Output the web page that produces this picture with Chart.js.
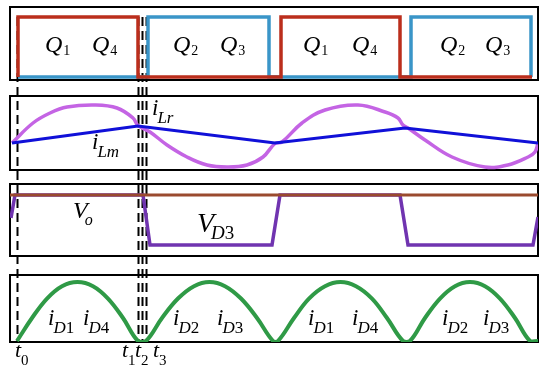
<!DOCTYPE html>
<html>
<head>
<meta charset="utf-8">
<script src="https://cdn.jsdelivr.net/npm/chart.js@4.4.1/dist/chart.umd.min.js"></script>
<style>
  html,body{margin:0;padding:0;background:#fff;}
  #box{width:550px;height:374px;position:relative;}
</style>
</head>
<body>
<div id="box"><canvas id="wave"></canvas></div>
<script>
/* ===============================
   DATA (time in arbitrary units, frame starts at 0)
================================ */

// switching instants t0..t3
const tMarks = [0.7, 12.8, 13.2, 13.6];
const tNames = ["0", "1", "2", "3"];

// gate signals Q1/Q4 and Q2/Q3
const gQ14T = [0.8, 0.8, 12.8, 12.8, 27.1, 27.1, 39.0, 39.0, 52.2];
const gQ14V = [0, 1, 1, 0, 0, 1, 1, 0, 0];
const gQ23T = [0.8, 13.8, 13.8, 25.9, 25.9, 40.1, 40.1, 52.1, 52.1];
const gQ23V = [0, 0, 1, 1, 0, 0, 1, 1, 0];

// resonant current iLr and magnetizing current iLm
const iLrT = [0.2, 2.3, 4.0, 5.7, 8.5, 10.7, 12.3, 12.8, 14.0, 15.7, 17.7, 19.7, 21.7, 23.7, 25.3, 26.5,
              27.2, 29.2, 31.5, 34.8, 37.5, 38.8, 39.3, 39.8, 41.5, 44.2, 47.5, 49.8, 51.8, 52.5, 52.8];
const iLrV = [-0.8, 1.2, 2.2, 2.8, 3.0, 2.7, 1.7, 0.95, 0.3, -1.0, -2.2, -3.0, -3.2, -3.0, -2.2, -0.85,
              -0.7, 1.2, 2.5, 3.0, 2.3, 1.7, 1.0, 0.7, -0.5, -2.2, -3.2, -3.0, -2.2, -1.7, -0.8];
const iLmT = [0.2, 12.8, 26.5, 39.5, 52.8];
const iLmV = [-0.8, 0.9, -0.8, 0.7, -0.8];

// output voltage and diode voltage VD3
const voT = [0, 52.8];
const voV = [1, 1];
const vD3T = [0.1, 0.5, 13.3, 14.0, 26.2, 27.0, 39.0, 39.8, 52.3, 52.8];
const vD3V = [0.54, 1, 1, 0, 0, 1, 1, 0, 0, 0.56];

// rectifier diode currents
const iDT = [0.7, 2.2, 3.7, 5.2, 6.75, 8.3, 9.8, 11.3, 12.8,
             13.6, 15.2, 16.8, 18.4, 19.95, 21.5, 23.1, 24.7, 26.3,
             26.8, 28.4, 29.9, 31.5, 33.05, 34.6, 36.2, 37.7, 39.3,
             40.0, 41.5, 43.0, 44.5, 46.0, 47.5, 49.0, 50.5, 52.0, 52.8];
const iDV = [0, 0.39, 0.72, 0.93, 1, 0.93, 0.72, 0.39, 0,
             0, 0.39, 0.72, 0.93, 1, 0.93, 0.72, 0.39, 0,
             0, 0.39, 0.72, 0.93, 1, 0.93, 0.72, 0.39, 0,
             0, 0.39, 0.72, 0.93, 1, 0.93, 0.72, 0.39, 0, 0];

// text labels: axis, time, value (baseline), main, sub
const labelList = [
  ["yQ", 3.5, 0.42, "Q", "1"], ["yQ", 8.2, 0.42, "Q", "4"],
  ["yQ", 16.3, 0.42, "Q", "2"], ["yQ", 21.0, 0.42, "Q", "3"],
  ["yQ", 29.3, 0.42, "Q", "1"], ["yQ", 34.2, 0.42, "Q", "4"],
  ["yQ", 43.0, 0.42, "Q", "2"], ["yQ", 47.5, 0.42, "Q", "3"],
  ["yL", 14.2, 2.0, "i", "Lr"], ["yL", 8.2, -1.4, "i", "Lm"],
  ["yV", 6.3, 0.54, "V", "o"], ["yV", 18.7, 0.26, "V", "D3"],
  ["yD", 3.8, 0.27, "i", "D1"], ["yD", 7.3, 0.27, "i", "D4"],
  ["yD", 16.3, 0.27, "i", "D2"], ["yD", 20.7, 0.27, "i", "D3"],
  ["yD", 29.8, 0.27, "i", "D1"], ["yD", 34.2, 0.27, "i", "D4"],
  ["yD", 43.2, 0.27, "i", "D2"], ["yD", 47.3, 0.27, "i", "D3"]
];
// per-symbol font size, subscript size, subscript drop, gap
const labelStyle = {
  Q: [24, 14, 3, 1],
  i: [23, 17, 8, -1],
  V: [24, 16, 7, -3]
};

const pts = (ts, vs) => ts.map((t, i) => ({x: t, y: vs[i]}));

/* ===============================
   FRAMES, DASHED INSTANTS, TEXT
================================ */
const panelIds = ["yQ", "yL", "yV", "yD"];
const FONT = '"Liberation Serif", "Times New Roman", serif';

function drawLabel(ctx, px, py, main, sub, size, subSize, dy, gap){
  ctx.font = `italic ${size}px ${FONT}`;
  ctx.fillText(main, px, py);
  let x = px + ctx.measureText(main).width + gap;
  for(const ch of sub){
    ctx.font = (/[0-9]/.test(ch) ? "" : "italic ") + `${subSize}px ${FONT}`;
    ctx.fillText(ch, x, py + dy);
    x += ctx.measureText(ch).width;
  }
}

const framePlugin = {
  id: "frames",
  beforeDatasetsDraw(chart){
    const ctx = chart.ctx, xs = chart.scales.x;
    ctx.save();
    ctx.strokeStyle = "#000";
    ctx.lineWidth = 2;
    panelIds.forEach(id => {
      const s = chart.scales[id];
      ctx.strokeRect(xs.left, s.top, xs.right - xs.left, s.bottom - s.top);
    });
    ctx.setLineDash([9, 5]);
    ctx.lineWidth = 2;
    const yTop = chart.scales.yQ.getPixelForValue(1);
    const yBot = chart.scales.yD.getPixelForValue(0);
    tMarks.forEach(t => {
      const px = Math.round(xs.getPixelForValue(t)) + 0.5;
      ctx.beginPath();
      ctx.moveTo(px, yTop);
      ctx.lineTo(px, yBot);
      ctx.stroke();
    });
    ctx.restore();
  },
  afterDatasetsDraw(chart){
    const ctx = chart.ctx, xs = chart.scales.x;
    ctx.save();
    ctx.fillStyle = "#000";
    ctx.textBaseline = "alphabetic";
    labelList.forEach(([id, t, v, main, sub]) => {
      const st = labelStyle[main];
      let size = st[0], subSize = st[1];
      if(main === "V" && sub === "D3"){ size = 28; subSize = 19; }
      drawLabel(ctx, xs.getPixelForValue(t), chart.scales[id].getPixelForValue(v),
                main, sub, size, subSize, st[2], st[3]);
    });
    // time marks under the last panel
    const tPos = [0.5, 11.2, 12.5, 14.3];
    tPos.forEach((t, i) => {
      drawLabel(ctx, xs.getPixelForValue(t), chart.scales.yD.getPixelForValue(-0.27),
                "t", tNames[i], 22, 15, 8, 0);
    });
    ctx.restore();
  }
};

/* ===============================
   CHART
================================ */
function stackAxis(w, min, max){
  return {
    axis: "y", position: "left", stack: "panels", stackWeight: w,
    min: min, max: max, display: true,
    ticks: {display: false},
    grid: {display: false, drawTicks: false},
    border: {display: false}
  };
}

function line(data, axis, color, width, tension){
  return {
    data: data, yAxisID: axis, xAxisID: "x",
    borderColor: color, borderWidth: width,
    pointRadius: 0, fill: false,
    tension: tension || 0
  };
}

new Chart(document.getElementById("wave"), {
  type: "line",
  data: {
    datasets: [
      line(pts(gQ14T, gQ14V), "yQ", "#bb2e1c", 3.5),
      line(pts(gQ23T, gQ23V), "yQ", "#3a95c8", 3.5),
      line(pts(iLmT, iLmV), "yL", "#1010d8", 3),
      line(pts(iLrT, iLrV), "yL", "#c464e4", 3.5, 0.4),
      line(pts(voT, voV), "yV", "#9a4a2e", 3),
      line(pts(vD3T, vD3V), "yV", "#7034b0", 3.5),
      line(pts(iDT, iDV), "yD", "#2f9a46", 4, 0.4)
    ]
  },
  options: {
    responsive: true,
    maintainAspectRatio: false,
    animation: false,
    events: [],
    layout: {padding: {left: 10, right: 12, top: 7, bottom: 32}},
    plugins: {legend: {display: false}, tooltip: {enabled: false}},
    scales: {
      x: {type: "linear", min: 0, max: 52.8, display: false},
      // stacked panels are placed bottom-up
      yD: stackAxis(67, -0.017, 1.119),
      yGap3: stackAxis(19, 0, 1),
      yV: stackAxis(72, -0.22, 1.22),
      yGap2: stackAxis(14, 0, 1),
      yL: stackAxis(74, -3.5, 3.9),
      yGap1: stackAxis(16, 0, 1),
      yQ: stackAxis(73, -0.05, 1.167)
    }
  },
  plugins: [framePlugin]
});
</script>
</body>
</html>
